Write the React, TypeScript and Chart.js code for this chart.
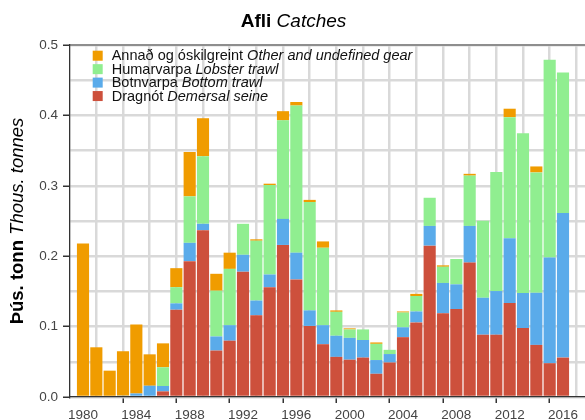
import React, { useEffect, useRef } from 'react';
import { Chart, registerables } from 'chart.js';

Chart.register(...registerables);

// ---- Data (thousand tonnes) ----
const years = [
  1980, 1981, 1982, 1983, 1984, 1985, 1986, 1987, 1988, 1989,
  1990, 1991, 1992, 1993, 1994, 1995, 1996, 1997, 1998, 1999,
  2000, 2001, 2002, 2003, 2004, 2005, 2006, 2007, 2008, 2009,
  2010, 2011, 2012, 2013, 2014, 2015, 2016,
];

// Dragnót  Demersal seine
const demersalSeine = [
  0, 0, 0, 0, 0, 0, 0.008, 0.124, 0.193, 0.237,
  0.066, 0.080, 0.178, 0.116, 0.156, 0.216, 0.167, 0.101, 0.075, 0.057,
  0.053, 0.056, 0.033, 0.049, 0.085, 0.106, 0.215, 0.119, 0.125, 0.191,
  0.0885, 0.0885, 0.1335, 0.098, 0.074, 0.048, 0.056,
];

// Botnvarpa  Bottom trawl
const bottomTrawl = [
  0, 0, 0, 0.002, 0.005, 0.016, 0.0076, 0.009, 0.026, 0.009,
  0.020, 0.022, 0.024, 0.021, 0.018, 0.037, 0.038, 0.022, 0.027, 0.030,
  0.031, 0.025, 0.0195, 0.012, 0.014, 0.0155, 0.028, 0.043, 0.035, 0.052,
  0.0525, 0.062, 0.092, 0.0497, 0.074, 0.150, 0.2055,
];

// Humarvarpa  Lobster trawl
const lobsterTrawl = [
  0, 0, 0, 0, 0, 0, 0.0266, 0.023, 0.066, 0.096,
  0.065, 0.080, 0.044, 0.085, 0.127, 0.140, 0.209, 0.154, 0.110, 0.034,
  0.012, 0.015, 0.023, 0.006, 0.021, 0.022, 0.040, 0.023, 0.036, 0.0715,
  0.1095, 0.169, 0.172, 0.227, 0.171, 0.281, 0.1993,
];

// Annað og óskilgreint  Other and undefined gear
const otherGear = [
  0.218, 0.0706, 0.0374, 0.063, 0.098, 0.0446, 0.034, 0.027, 0.063, 0.054,
  0.024, 0.023, 0, 0.002, 0.002, 0.013, 0.005, 0.003, 0.009, 0.002,
  0.0015, 0, 0.002, 0, 0.0015, 0.003, 0, 0.002, 0, 0.0025,
  0, 0, 0.012, 0, 0.0085, 0, 0,
];

const xGridYears = [
  1980, 1982, 1984, 1986, 1988, 1990, 1992, 1994, 1996, 1998,
  2000, 2002, 2004, 2006, 2008, 2010, 2012, 2014, 2016,
];
const xLabelYears = [1980, 1984, 1988, 1992, 1996, 2000, 2004, 2008, 2012, 2016];
const yGridValues = [0, 0.05, 0.1, 0.15, 0.2, 0.25, 0.3, 0.35, 0.4, 0.45, 0.5];
const yLabelValues = [0, 0.1, 0.2, 0.3, 0.4, 0.5];

const titleBold = 'Afli';
const titleItalic = 'Catches';
const yTitleBold = 'Þús. tonn';
const yTitleItalic = 'Thous. tonnes';

const legendNames = [
  'Annað og óskilgreint ',
  'Humarvarpa ',
  'Botnvarpa ',
  'Dragnót ',
];
const legendNamesEn = [
  'Other and undefined gear',
  'Lobster trawl',
  'Bottom trawl',
  'Demersal seine',
];

// ---- Styles ----
const COLORS = {
  other: '#f09c00',
  lobster: '#90ee90',
  bottom: '#5aabea',
  seine: '#cd503c',
};
const legendColors = [COLORS.other, COLORS.lobster, COLORS.bottom, COLORS.seine];
const FONT = '"Liberation Sans", Arial, Helvetica, sans-serif';

type Part = { text: string; font: string };

function drawParts(
  ctx: CanvasRenderingContext2D,
  parts: Part[],
  x: number,
  y: number,
  align: 'left' | 'center',
) {
  const widths = parts.map((p) => {
    ctx.font = p.font;
    return ctx.measureText(p.text).width;
  });
  const total = widths.reduce((a, b) => a + b, 0);
  let cx = align === 'center' ? x - total / 2 : x;
  ctx.textAlign = 'left';
  ctx.textBaseline = 'middle';
  parts.forEach((p, i) => {
    ctx.font = p.font;
    ctx.fillText(p.text, cx, y);
    cx += widths[i];
  });
}

const decorPlugin = {
  id: 'decor',
  afterDraw(chart: any) {
    const ctx: CanvasRenderingContext2D = chart.ctx;
    const area = chart.chartArea;
    ctx.save();

    // top frame line
    ctx.strokeStyle = '#444';
    ctx.lineWidth = 1.2;
    ctx.beginPath();
    ctx.moveTo(area.left, area.top);
    ctx.lineTo(area.right, area.top);
    ctx.stroke();

    // title
    ctx.fillStyle = '#000';
    drawParts(
      ctx,
      [
        { text: titleBold + ' ', font: `bold 19px ${FONT}` },
        { text: titleItalic, font: `italic 19px ${FONT}` },
      ],
      293.5,
      21.5,
      'center',
    );

    // y-axis title (rotated)
    ctx.save();
    ctx.translate(17.5, (area.top + area.bottom) / 2);
    ctx.rotate(-Math.PI / 2);
    drawParts(
      ctx,
      [
        { text: yTitleBold + ' ', font: `bold 18.5px ${FONT}` },
        { text: yTitleItalic, font: `italic 18.5px ${FONT}` },
      ],
      0,
      0,
      'center',
    );
    ctx.restore();

    // legend
    const rowY0 = 55.7;
    const rowStep = 13.45;
    legendNames.forEach((name, i) => {
      const cy = rowY0 + i * rowStep;
      ctx.fillStyle = legendColors[i];
      ctx.fillRect(92.7, cy - 5, 10, 10);
      ctx.fillStyle = '#111';
      drawParts(
        ctx,
        [
          { text: name, font: `14.5px ${FONT}` },
          { text: legendNamesEn[i], font: `italic 14.5px ${FONT}` },
        ],
        111.7,
        cy + 0.5,
        'left',
      );
    });

    ctx.restore();
  },
};

const isMultiple = (v: number, step: number) =>
  Math.abs(v / step - Math.round(v / step)) < 1e-6;

export default function App() {
  const canvasRef = useRef<HTMLCanvasElement | null>(null);

  useEffect(() => {
    if (!canvasRef.current) return;
    const mk = (values: number[]) => values.map((v, i) => ({ x: years[i], y: v }));

    const chart = new Chart(canvasRef.current, {
      type: 'bar',
      data: {
        datasets: [
          { label: 'Dragnót Demersal seine', data: mk(demersalSeine), backgroundColor: COLORS.seine },
          { label: 'Botnvarpa Bottom trawl', data: mk(bottomTrawl), backgroundColor: COLORS.bottom },
          { label: 'Humarvarpa Lobster trawl', data: mk(lobsterTrawl), backgroundColor: COLORS.lobster },
          { label: 'Annað og óskilgreint Other and undefined gear', data: mk(otherGear), backgroundColor: COLORS.other },
        ] as any,
      },
      options: {
        animation: false,
        responsive: true,
        maintainAspectRatio: false,
        layout: { padding: { top: 45, left: 0, right: 0, bottom: 0 } },
        datasets: {
          bar: { barPercentage: 0.91, categoryPercentage: 1, borderWidth: 0 },
        } as any,
        plugins: {
          legend: { display: false },
          title: { display: false },
          tooltip: { enabled: false },
        },
        scales: {
          x: {
            type: 'linear',
            stacked: true,
            min: 1979.025,
            max: 2017.65,
            offset: false,
            afterBuildTicks: (scale: any) => {
              scale.ticks = xGridYears.map((v) => ({ value: v }));
            },
            afterFit: (scale: any) => {
              scale.height = 23;
            },
            ticks: {
              autoSkip: false,
              maxRotation: 0,
              padding: 4,
              color: '#444',
              font: { family: FONT, size: 13.5 },
              callback: (v: any) => (xLabelYears.includes(Number(v)) ? String(v) : ''),
            },
            grid: {
              color: '#d9d9d9',
              lineWidth: 2.5,
              drawTicks: true,
              tickLength: 6,
              tickWidth: 1.5,
              tickColor: (c: any) =>
                c.tick && xLabelYears.includes(c.tick.value) ? '#333' : 'rgba(0,0,0,0)',
            },
            border: { display: true, color: '#333', width: 1.3 },
          },
          y: {
            type: 'linear',
            stacked: true,
            min: 0,
            max: 0.5,
            afterBuildTicks: (scale: any) => {
              scale.ticks = yGridValues.map((v) => ({ value: v }));
            },
            afterFit: (scale: any) => {
              scale.width = 70;
            },
            ticks: {
              autoSkip: false,
              padding: 5,
              color: '#444',
              font: { family: FONT, size: 13.5 },
              callback: (v: any) =>
                yLabelValues.some((l) => Math.abs(l - Number(v)) < 1e-6) ? Number(v).toFixed(1) : '',
            },
            grid: {
              color: '#d9d9d9',
              lineWidth: 2.5,
              drawTicks: true,
              tickLength: 7,
              tickWidth: 1.5,
              tickColor: (c: any) =>
                c.tick && isMultiple(c.tick.value, 0.1) ? '#333' : 'rgba(0,0,0,0)',
            },
            border: { display: true, color: '#333', width: 1.3 },
          },
        },
      } as any,
      plugins: [decorPlugin],
    });

    return () => chart.destroy();
  }, []);

  return (
    <div
      style={{
        position: 'fixed',
        left: 0,
        top: 0,
        width: 585,
        height: 420,
        background: '#fff',
      }}
    >
      <canvas ref={canvasRef} />
    </div>
  );
}
